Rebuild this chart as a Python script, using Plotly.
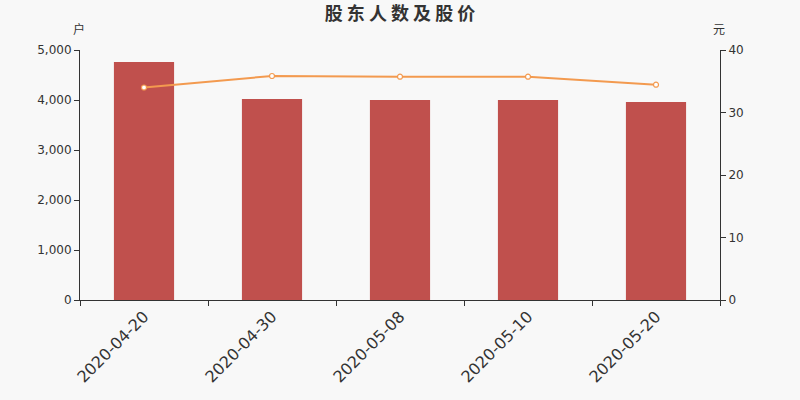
import plotly.graph_objects as go

dates = ["2020-04-20", "2020-04-30", "2020-05-08", "2020-05-10", "2020-05-20"]
holders = [4760, 4020, 4000, 4000, 3960]
prices = [34.0, 35.84, 35.73, 35.73, 34.45]

fig = go.Figure()
fig.add_trace(go.Bar(x=dates, y=holders, marker_color="#c0504d", marker_line_width=0,
                     width=0.47, name="股东人数"))
fig.add_trace(go.Scatter(x=dates, y=prices, yaxis="y2", mode="lines+markers",
                         line=dict(color="#f39a4f", width=2),
                         marker=dict(size=5, color="white", line=dict(color="#f39a4f", width=1.2)),
                         name="股价"))

font = "DejaVu Sans, Noto Sans CJK SC, sans-serif"
fig.update_layout(
    width=800, height=400,
    paper_bgcolor="#f8f8f8", plot_bgcolor="#f8f8f8",
    margin=dict(l=80, r=80, t=50, b=100),
    showlegend=False,
    font=dict(family=font, color="#333"),
    title=dict(text="<b>股 东 人 数 及 股 价</b>", x=0.5, y=0.966, xanchor="center", yanchor="middle",
               font=dict(size=18, color="#333", family="Noto Sans CJK SC, sans-serif")),
    bargap=0.53,
    xaxis=dict(type="category", tickson="boundaries", ticks="outside", ticklen=5,
               showline=True, linecolor="#333", linewidth=1, tickcolor="#333",
               tickangle=-45, tickfont=dict(size=16, color="#333"), showgrid=False),
    yaxis=dict(range=[0, 5000], tickvals=[0, 1000, 2000, 3000, 4000, 5000], tickformat=",",
               showline=True, linecolor="#333", ticks="outside", ticklen=5, tickcolor="#333",
               showgrid=False, zeroline=False, tickfont=dict(size=12, color="#333")),
    yaxis2=dict(range=[0, 40], tickvals=[0, 10, 20, 30, 40], overlaying="y", side="right",
                showline=True, linecolor="#333", ticks="outside", ticklen=5, tickcolor="#333",
                showgrid=False, zeroline=False, tickfont=dict(size=12, color="#333")),
    annotations=[
        dict(text="户", xref="paper", yref="paper", x=0, y=1, yshift=22, xshift=-1, showarrow=False,
             xanchor="center", yanchor="middle", font=dict(size=12, color="#333", family="Noto Sans CJK SC")),
        dict(text="元", xref="paper", yref="paper", x=1, y=1, yshift=22, xshift=-1, showarrow=False,
             xanchor="center", yanchor="middle", font=dict(size=12, color="#333", family="Noto Sans CJK SC")),
    ],
)
fig.write_html("out.html", post_script="document.body.style.margin='0';",
               config={"displayModeBar": False})
